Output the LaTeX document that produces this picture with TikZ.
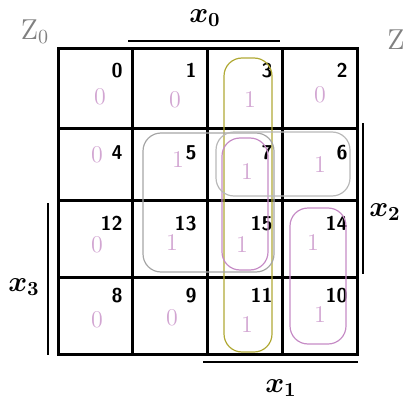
\documentclass[tikz,border=0pt]{standalone}
\begin{document}
\begin{tikzpicture}[x=0.5pt,y=-0.5pt,
  num/.style={anchor=north east,font=\sffamily\bfseries,inner sep=0pt},
  val/.style={text=violet!35,font=\large},
  lbl/.style={font=\Large\boldmath},
  grp/.style={rounded corners=9pt,line width=0.6pt}]
\useasboundingbox (0,0) rectangle (406,417);

% the map
\draw[line width=1.5pt] (58,49) rectangle (357,354);
\draw[line width=1.5pt] (132,49) -- (132,354);
\draw[line width=1.5pt] (207,49) -- (207,354);
\draw[line width=1.5pt] (282,49) -- (282,354);
\draw[line width=1.5pt] (58,128) -- (357,128);
\draw[line width=1.5pt] (58,200) -- (357,200);
\draw[line width=1.5pt] (58,277) -- (357,277);

\node[num] (n0) at (123,63) {0};
\node[num] (n1) at (197,63) {1};
\node[num] (n3) at (273,63) {3};
\node[num] (n2) at (348,63) {2};
\node[num] (n4) at (123,145) {4};
\node[num] (n5) at (197,145) {5};
\node[num] (n7) at (273,145) {7};
\node[num] (n6) at (348,145) {6};
\node[num] (n12) at (123,216) {12};
\node[num] (n13) at (197,216) {13};
\node[num] (n15) at (273,216) {15};
\node[num] (n14) at (348,216) {14};
\node[num] (n8) at (123,288) {8};
\node[num] (n9) at (197,288) {9};
\node[num] (n11) at (273,288) {11};
\node[num] (n10) at (348,288) {10};

% handwritten entries
\node[val] (v0) at (100,97) {0};
\node[val] (v1) at (175,100) {0};
\node[val] (v3) at (250,100) {1};
\node[val] (v2) at (320,95) {0};
\node[val] (v4) at (97,155) {0};
\node[val] (v5) at (178,160) {1};
\node[val] (v7) at (247,172) {1};
\node[val] (v6) at (320,165) {1};
\node[val] (v12) at (97,245) {0};
\node[val] (v13) at (172,243) {1};
\node[val] (v15) at (242,245) {1};
\node[val] (v14) at (313,243) {1};
\node[val] (v8) at (97,320) {0};
\node[val] (v9) at (172,318) {0};
\node[val] (v11) at (247,325) {1};
\node[val] (v10) at (320,315) {1};

\draw[grp,olive!70] (224,58) rectangle (272,352);
\draw[grp,gray!70] (143,133) rectangle (274,272);
\draw[grp,violet!45] (222,138) rectangle (268,270);
\draw[grp,gray!55] (216,132) rectangle (350,196);
\draw[grp,violet!45] (290,208) rectangle (346,344);

\node[text=gray,font=\Large] (z0) at (35,32) {Z$_0$};
\node[text=gray,font=\Large] (z1) at (396,40) {Z};

% variable bars
\draw[line width=1pt] (128,41) -- (280,41);
\draw[line width=1pt] (363,123) -- (363,274);
\draw[line width=1pt] (48,203) -- (48,355);
\draw[line width=1pt] (203,362) -- (358,362);

\node[lbl] (x0) at (205,18) {$x_0$};
\node[lbl] (x2) at (385,212) {$x_2$};
\node[lbl] (x3) at (24,287) {$x_3$};
\node[lbl] (x1) at (281,388) {$x_1$};
\end{tikzpicture}
\end{document}
